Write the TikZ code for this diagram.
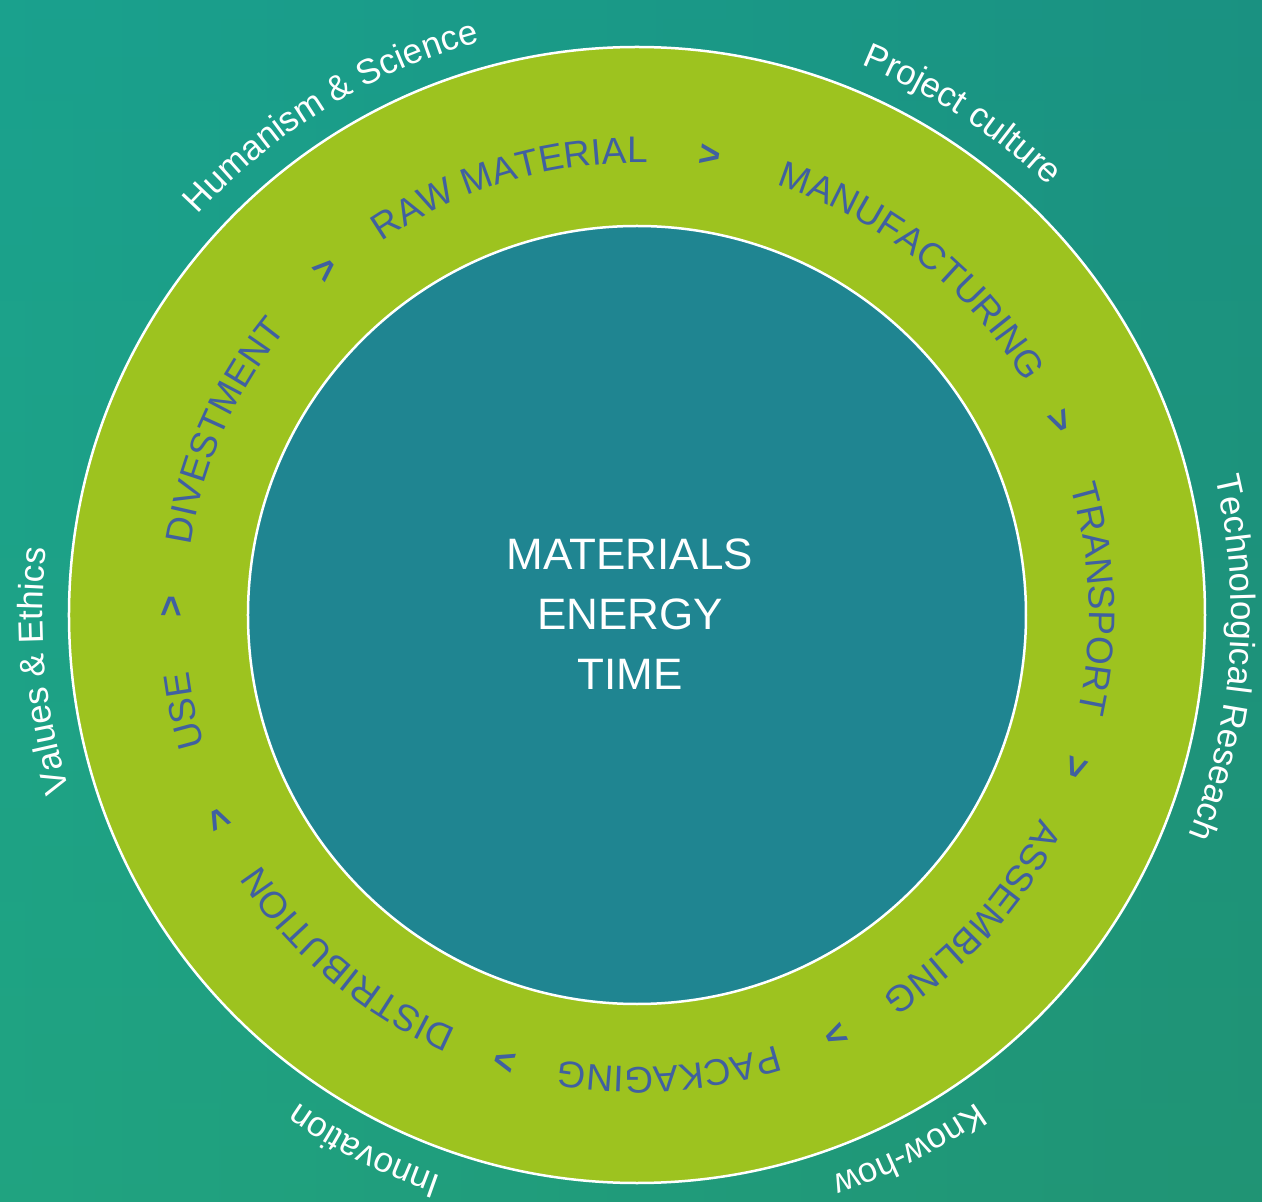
\documentclass[tikz,border=0pt]{standalone}
\usepackage{fontspec}
\setmainfont{Liberation Sans}
\usetikzlibrary{decorations.text}
\definecolor{bgL}{HTML}{1CA68C}
\definecolor{bgR}{HTML}{1C8C78}
\definecolor{bgT}{HTML}{189A90}
\definecolor{bgB}{HTML}{26A070}
\definecolor{ringgreen}{HTML}{9DC31F}
\definecolor{coreteal}{HTML}{1F8591}
\definecolor{ringblue}{HTML}{4060A0}
\newcommand\ringfont{\fontsize{37}{37}\selectfont}
\newcommand\outerfont{\fontsize{35}{35}\selectfont}
\newcommand\ringlabel[2]{\path[decorate,decoration={text along path,text align=center,text color=ringblue,text={|\ringfont|#2}}] (#1+70:452pt) arc[start angle=#1+70,end angle=#1-70,radius=452pt];}
\newcommand\outerlabel[2]{\path[decorate,decoration={text along path,text align=center,text color=white,text={|\outerfont|#2}}] (#1+70:594pt) arc[start angle=#1+70,end angle=#1-70,radius=594pt];}
\tikzset{
  chevron/.style={text=ringblue,font=\ringfont\bfseries,inner sep=0pt},
  ringdisc/.style={circle,fill=ringgreen,draw=white,line width=2.5pt,inner sep=0pt},
  coredisc/.style={circle,fill=coreteal,draw=white,line width=2.5pt,inner sep=0pt},
  coretext/.style={text=white,font=\fontsize{44}{60}\selectfont,align=center,inner sep=0pt}
}
\begin{document}
\begin{tikzpicture}
\useasboundingbox (-637pt,-587pt) rectangle (625pt,615pt);
\shade[left color=bgL,right color=bgR] (-637pt,-587pt) rectangle (625pt,615pt);
\shade[top color=bgT,bottom color=bgB,opacity=0.4] (-637pt,-587pt) rectangle (625pt,615pt);
\node[ringdisc,minimum size=1136pt] (ring) at (0pt,0pt) {};
\node[coredisc,minimum size=778pt] (core) at (0pt,0pt) {};
\node[coretext] (centre) at (-7pt,1pt) {MATERIALS\\ENERGY\\TIME};
% ring labels
\ringlabel{106.5}{RAW MATERIAL}
\ringlabel{51.5}{MANUFACTURING}
\ringlabel{2}{TRANSPORT}
\ringlabel{-42}{ASSEMBLING}
\ringlabel{-86}{PACKAGING}
\ringlabel{-130}{DISTRIBUTION}
\ringlabel{-168}{USE}
\ringlabel{156}{DIVESTMENT}
% chevrons
\node[chevron,rotate=-9] (c1) at (81:464pt) {>};
\node[chevron,rotate=-65.4] (c2) at (24.6:464pt) {>};
\node[chevron,rotate=-109.2] (c3) at (-19.2:464pt) {>};
\node[chevron,rotate=-154.7] (c4) at (-64.7:464pt) {>};
\node[chevron,rotate=-196.5] (c5) at (-106.5:464pt) {>};
\node[chevron,rotate=-244] (c6) at (-154:464pt) {>};
\node[chevron,rotate=89] (c7) at (179:464pt) {>};
\node[chevron,rotate=42] (c8) at (132:464pt) {>};
% outer labels
\outerlabel{121.5}{Humanism {\&} Science}
\outerlabel{57}{Project culture}
\outerlabel{-4.2}{Technological Reseach}
\outerlabel{-63}{Know-how}
\outerlabel{-117}{Innovation}
\outerlabel{185.4}{Values {\&} Ethics}
\end{tikzpicture}
\end{document}
